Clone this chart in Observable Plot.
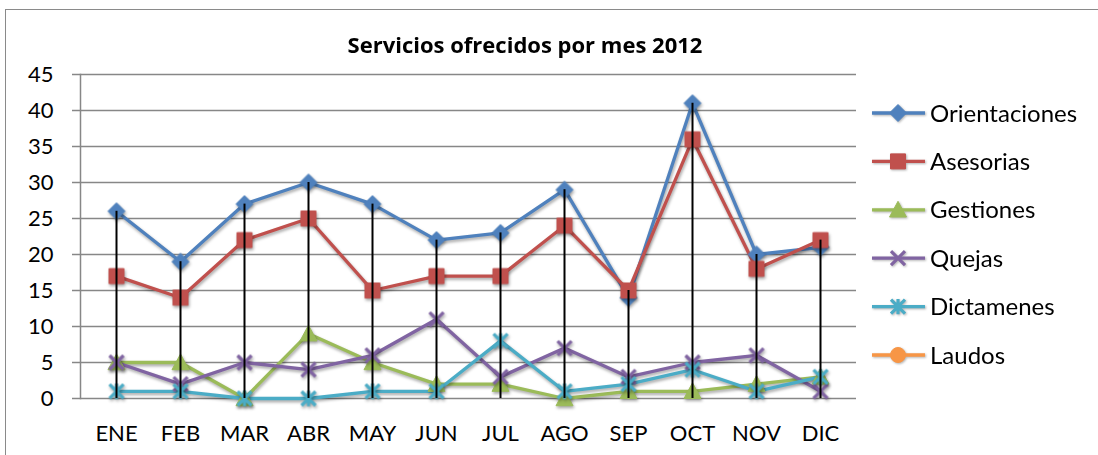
<!DOCTYPE html>
<html><head><meta charset="utf-8">
<script src="https://cdn.jsdelivr.net/npm/d3@7"></script>
<script src="https://cdn.jsdelivr.net/npm/@observablehq/plot@0.6"></script>
<style>
body{margin:0;background:#fff;}
#wrap{position:relative;width:1098px;height:455px;overflow:hidden;background:#fff;}
#border{position:absolute;left:5px;top:9px;width:1100px;height:470px;border:1.5px solid #8a8a8a;box-sizing:border-box;}
#chart{position:absolute;left:0;top:0;}
#overlay{position:absolute;left:0;top:0;pointer-events:none;}
</style></head>
<body>
<div id="wrap"><div id="border"></div><div id="chart"></div><svg id="overlay" width="1098" height="455"></svg></div>
<script>
const title = "Servicios ofrecidos por mes 2012";
const months = ["ENE","FEB","MAR","ABR","MAY","JUN","JUL","AGO","SEP","OCT","NOV","DIC"];
const seriesNames = ["Orientaciones","Asesorias","Gestiones","Quejas","Dictamenes","Laudos"];
const orientaciones = [26,19,27,30,27,22,23,29,14,41,20,21];
const asesorias = [17,14,22,25,15,17,17,24,15,36,18,22];
const gestiones = [5,5,0,9,5,2,2,0,1,1,2,3];
const quejas = [5,2,5,4,6,11,3,7,3,5,6,1];
const dictamenes = [1,1,0,0,1,1,8,1,2,4,1,3];
const laudos = [null,null,null,null,null,null,null,null,null,null,null,null];
const yTicks = [0,5,10,15,20,25,30,35,40,45];

const seriesValues = [orientaciones, asesorias, gestiones, quejas, dictamenes, laudos];

// symbols: half-size r = sqrt(size/PI)
const R = s => Math.sqrt(s/Math.PI);
const symDiamond = {draw(c,s){const r=R(s);c.moveTo(0,-r);c.lineTo(r,0);c.lineTo(0,r);c.lineTo(-r,0);c.closePath();}};
const symSquare = {draw(c,s){const r=R(s);c.rect(-r,-r,2*r,2*r);}};
const symTriangle = {draw(c,s){const r=R(s);c.moveTo(0,-r);c.lineTo(r,r*0.85);c.lineTo(-r,r*0.85);c.closePath();}};
const symTimes = {draw(c,s){const r=R(s);c.moveTo(-r,-r);c.lineTo(r,r);c.moveTo(r,-r);c.lineTo(-r,r);}};
const symStar = {draw(c,s){const r=R(s);c.moveTo(-r,-r);c.lineTo(r,r);c.moveTo(r,-r);c.lineTo(-r,r);c.moveTo(0,-r*1.1);c.lineTo(0,r*1.1);}};
const symCircle = {draw(c,s){const r=R(s);c.moveTo(r,0);c.arc(0,0,r,0,2*Math.PI);}};

const styles = [
  {color:"#4F81BD", symbol:symDiamond, r:8.5, filled:true},
  {color:"#C0504D", symbol:symSquare, r:7.5, filled:true},
  {color:"#9BBB59", symbol:symTriangle, r:8.5, filled:true},
  {color:"#8064A2", symbol:symTimes, r:7, filled:false},
  {color:"#4BACC6", symbol:symStar, r:7, filled:false},
  {color:"#F79646", symbol:symCircle, r:7.5, filled:true}
];

const rows = [];
seriesNames.forEach((name, si) => {
  months.forEach((m, i) => rows.push({series: name, si, month: m, value: seriesValues[si][i]}));
});
const maxRows = months.map((m, i) => ({month: m, max: d3.max(seriesValues, s => s[i])}));

const marks = [
  Plot.gridY(yTicks, {stroke:"#878787", strokeOpacity:1, strokeWidth:1.5}),
  Plot.axisY(yTicks, {tickSize:8, tickPadding:19, stroke:"#878787", strokeWidth:1.5, fontSize:22, fill:"#000", label:null}),
  Plot.axisX(months, {tickSize:0, tickPadding:27, fontSize:22, fill:"#000", label:null}),
  Plot.frame({anchor:"left", stroke:"#878787", strokeWidth:1.5})
];
seriesNames.forEach((name, si) => {
  const data = rows.filter(d => d.si === si && d.value != null);
  const st = styles[si];
  marks.push(Plot.line(data, {x:"month", y:"value", stroke: st.color, strokeWidth:3.3, strokeLinejoin:"round", strokeLinecap:"round"}));
});
seriesNames.forEach((name, si) => {
  const data = rows.filter(d => d.si === si && d.value != null);
  const st = styles[si];
  marks.push(Plot.dot(data, {x:"month", y:"value", symbol: st.symbol, r: st.r,
    fill: st.filled ? st.color : "none", stroke: st.color, strokeWidth: st.filled ? 1 : 3.2}));
});
marks.push(Plot.ruleX(maxRows, {x:"month", y1: () => 0, y2:"max", stroke:"#000", strokeWidth:2}));

const plot = Plot.plot({
  width: 1098, height: 455,
  marginLeft: 80, marginRight: 242, marginTop: 74, marginBottom: 57,
  style: {fontFamily: "Lato, sans-serif", fontSize: "22px", background: "transparent", color:"#000"},
  x: {type: "point", domain: months, padding: 0.5, label: null},
  y: {domain: [0,45], label: null},
  marks
});
document.getElementById("chart").appendChild(plot);
d3.select(plot).selectAll('g[aria-label="line"], g[aria-label="dot"]')
  .style("filter", "drop-shadow(1.5px 2px 1.5px rgba(0,0,0,0.35))");

// title and legend
const ov = d3.select("#overlay");
ov.append("text").attr("x", 525).attr("y", 53).attr("text-anchor","middle")
  .attr("font-family","'Open Sans', sans-serif").attr("font-weight","bold").attr("font-size",22).attr("fill","#000").text(title);
seriesNames.forEach((name, si) => {
  const st = styles[si];
  const y = 113 + si*48.4;
  const g = ov.append("g").attr("transform", `translate(0,${y})`)
    .style("filter","drop-shadow(1px 1.5px 1px rgba(0,0,0,0.3))");
  g.append("line").attr("x1",872).attr("x2",925).attr("y1",0).attr("y2",0).attr("stroke",st.color).attr("stroke-width",3.3);
  const size = Math.PI*st.r*st.r;
  g.append("path").attr("transform","translate(898,0)")
    .attr("d", d3.symbol(st.symbol, size)())
    .attr("fill", st.filled ? st.color : "none").attr("stroke", st.color).attr("stroke-width", st.filled ? 1 : 3.2);
  ov.append("text").attr("x",930).attr("y",y).attr("dy","0.36em")
    .attr("font-family","Lato, sans-serif").attr("font-size",24).attr("fill","#000").text(name);
});
</script>
</body></html>
